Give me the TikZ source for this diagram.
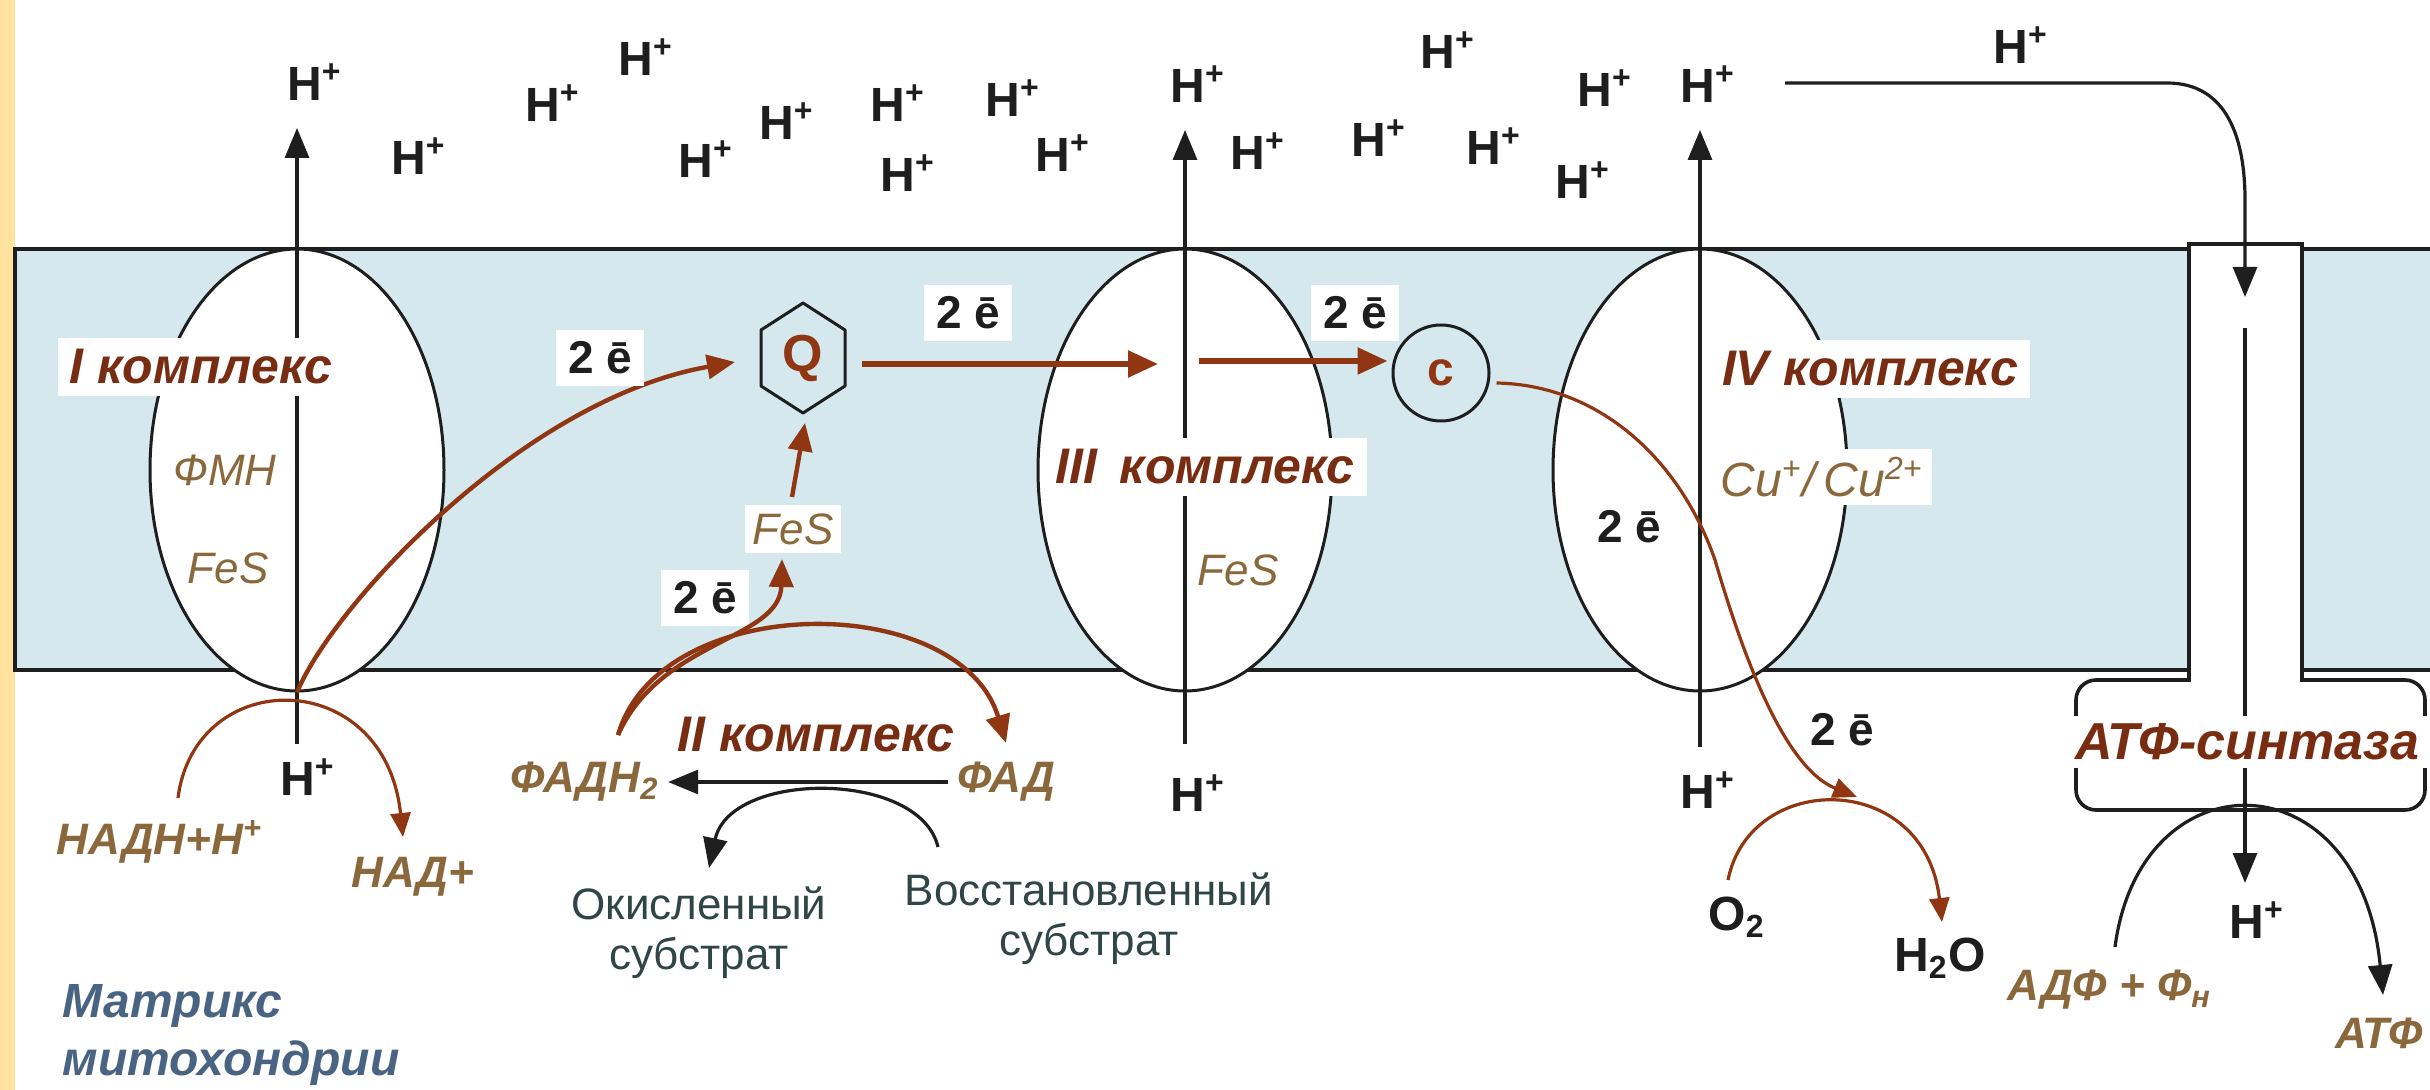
\documentclass[tikz,border=0pt]{standalone}
\usepackage{fontspec}
\setmainfont{Liberation Sans}
\usetikzlibrary{arrows.meta,calc,shapes.geometric}

\definecolor{membr}{RGB}{212,232,238}
\definecolor{stripc}{RGB}{255,226,158}
\definecolor{brn}{RGB}{145,54,18}
\definecolor{lbl}{RGB}{120,44,18}
\definecolor{tanlbl}{RGB}{138,104,60}
\definecolor{slate}{RGB}{48,70,70}
\definecolor{matr}{RGB}{72,100,130}
\definecolor{ink}{RGB}{30,30,30}

\tikzset{
 hp/.style={font=\fontsize{12}{14}\selectfont\bfseries, text=ink, inner sep=1pt},
 ee/.style={font=\fontsize{11.5}{13}\selectfont\bfseries, text=ink, inner sep=3pt},
 cplxlbl/.style={font=\fontsize{12.5}{14}\selectfont\bfseries\itshape, text=lbl, fill=white, inner sep=3pt},
 cof/.style={font=\fontsize{11}{13}\selectfont\itshape, text=tanlbl, inner sep=2pt},
 met/.style={font=\fontsize{11}{13}\selectfont\bfseries\itshape, text=tanlbl, inner sep=2pt},
 subs/.style={font=\fontsize{11}{12.5}\selectfont, text=slate, align=center, inner sep=1pt},
 cplx/.style={ellipse, draw=ink, line width=0.75pt, fill=white, minimum width=73.5pt, minimum height=110.5pt, inner sep=0pt},
 earrow/.style={draw=brn, line width=1.4pt, -{Triangle[length=7.5pt,width=6.5pt]}},
 earrowm/.style={draw=brn, line width=1.1pt, -{Triangle[length=7pt,width=6pt]}},
 earrowt/.style={draw=brn, line width=0.8pt, -{Triangle[length=6pt,width=5pt]}},
 karrow/.style={draw=ink, line width=0.8pt, -{Triangle[length=7.5pt,width=6pt]}},
 kline/.style={draw=ink, line width=0.8pt},
 memline/.style={draw=ink, line width=1pt},
}

\begin{document}
\begin{tikzpicture}[x=0.25pt,y=-0.25pt]
\useasboundingbox (0,0) rectangle (2430,1090);
\fill[white] (0,0) rectangle (2430,1090);
\fill[stripc] (0,0) rectangle (15,1090);

% membrane
\fill[membr] (15,249) rectangle (2445,670);
\draw[memline] (2445,249) -- (15,249) -- (15,670) -- (2445,670);

% complexes
\node[cplx] (c1) at (297,470) {};
\node[cplx] (c3) at (1185,470) {};
\node[cplx] (c4) at (1700,470) {};

% ATP synthase box and channel
\node[draw=ink, line width=0.9pt, fill=white, rounded corners=5pt, minimum width=87.25pt, minimum height=32.5pt, inner sep=0pt] (atpbox) at (2250.5,745) {};
\fill[white] (2190,244) rectangle (2301,684);
\draw[memline] (2189,682) -- (2189,244) -- (2302,244) -- (2302,682);

% coordinates for connector ends
\coordinate (i1b) at (297,744);
\coordinate (i1t) at (297,128);
\coordinate (i3b) at (1185,744);
\coordinate (i3t) at (1185,130);
\coordinate (i4b) at (1700,747);
\coordinate (i4t) at (1700,130);
\coordinate (synS) at (1785,83);
\coordinate (synE) at (2245,297);
\coordinate (synB) at (2245,328);
\coordinate (synD) at (2245,883);

% vertical proton arrows
\draw[karrow] (i1b) -- (i1t);
\draw[karrow] (i3b) -- (i3t);
\draw[karrow] (i4b) -- (i4t);
\draw[karrow] (synS) -- (2167,83) .. controls (2228,83) and (2245,140) .. (2245,200) -- (synE);
\draw[karrow] (synB) -- (synD);

% Q and cytochrome c
\node[font=\fontsize{13}{15}\selectfont\bfseries, text=brn, inner sep=1pt] (Q) at (803,358) {Q};
\draw[ink, line width=0.75pt, line join=round] (Q.center) ++(0,-55) -- ++(42,27) -- ++(0,56) -- ++(-42,27) -- ++(-42,-27) -- ++(0,-56) -- cycle;
\node[draw=ink, line width=0.75pt, circle, minimum size=24pt, inner sep=0pt, font=\fontsize{12}{14}\selectfont\bfseries, text=brn] (cyt) at (1441,373) {c};

\coordinate (qin) at (735,362);
\coordinate (qout) at (862,364);
\coordinate (c3in) at (1158,364);
\coordinate (c3out) at (1199,361);
\coordinate (qbot) at (805,423);

% electron transfer arrows
\draw[earrowm] (c1.south) .. controls (330,610) and (520,400) .. (qin);
\draw[earrow] (qout) -- (c3in);
\draw[earrow] (c3out) -- ($(cyt.west |- c3out)+(-4,0)$);
\draw[earrowt] ($(cyt.east)+(6,10)$) .. controls (1600,385) and (1680,460) .. (1715,560) .. controls (1750,680) and (1790,770) .. (1857,797);

% labels
\node[cplxlbl] (l1) at (201,367) {I комплекс};
\node[cplxlbl] (l3) at (1205,467) {III\hspace{0.45em}комплекс};
\node[cplxlbl] (l4) at (1870,369) {IV комплекс};
\node[cplxlbl, fill=none] (l2) at (816,735) {II комплекс};

\node[cof] (fmn) at (225,470) {ФМН};
\node[cof] (fes1) at (228,568) {FeS};
\node[cof, fill=white] (fes2) at (793,529) {FeS};
\node[cof] (fes3) at (1238,570) {FeS};
\node[cof, fill=white, font=\fontsize{12}{14}\selectfont\itshape] (cu) at (1822,477) {Cu\textsuperscript{+}/\,Cu\textsuperscript{2+}};

\draw[earrowm] (792,497) -- (qbot);

\node[ee, fill=white] (e1) at (600,358) {2 ē};
\node[ee, fill=white] (e2) at (968,313) {2 ē};
\node[ee, fill=white] (e3) at (1355,313) {2 ē};
\node[ee, fill=white] (e4) at (705,598) {2 ē};
\node[ee] (e5) at (1629,527) {2 ē};
\node[ee] (e6) at (1842,730) {2 ē};

% complex II
\node[met] (fadh) at (585,782) {ФАДН\textsubscript{2}};
\node[met] (fad) at (1006,782) {ФАД};
\coordinate (fadhs) at (618,735);
\coordinate (fadt) at (1006,743);
\coordinate (fest) at (782,559);
\draw[earrowm] (fadhs) .. controls (660,590) and (960,590) .. (fadt);
\draw[earrowm] (fadhs) .. controls (660,640) and (780,640) .. (fest);
\draw[karrow] (fad.west) -- (fadh.east);
\coordinate (reds) at (938,847);
\coordinate (oxe) at (709,868);
\draw[karrow] (reds) .. controls (920,770) and (730,770) .. (oxe);
\node[subs] (ox) at (699,933) {Окисленный\\субстрат};
\node[subs] (red) at (1089,919) {Восстановленный\\субстрат};

% complex I matrix side
\node[met] (nadh) at (160,842) {НАДН+Н\textsuperscript{+}};
\node[met] (nad) at (413,877) {НАД+};
\coordinate (nadhs) at (178,798);
\coordinate (nade) at (403,837);
\draw[earrowt] (nadhs) .. controls (195,665) and (385,665) .. (nade);

% complex IV matrix side
\node[hp] (o2) at (1737,917) {O\textsubscript{2}};
\node[hp] (h2o) at (1940,958) {H\textsubscript{2}O};
\coordinate (o2s) at (1728,880);
\coordinate (h2oe) at (1942,922);
\draw[earrowt] (o2s) .. controls (1750,770) and (1925,770) .. (h2oe);

% ATP synthase side
\node[font=\fontsize{13}{15}\selectfont\bfseries\itshape, text=lbl, fill=white, inner sep=2pt] (atpl) at (2247,742) {АТФ-синтаза};
\node[met] (adp) at (2110,990) {АДФ + Ф\textsubscript{н}};
\node[met, anchor=east, inner sep=1pt] (atp) at (2428,1033) {АТФ};
\coordinate (adps) at (2115,947);
\coordinate (atpe) at (2383,995);
\draw[karrow] (adps) .. controls (2140,755) and (2360,755) .. (atpe);

% H+ labels (intermembrane space)
\node[hp] (h1) at (315,82) {H\textsuperscript{+}};
\node[hp] (h2) at (419,156) {H\textsuperscript{+}};
\node[hp] (h3) at (553,103) {H\textsuperscript{+}};
\node[hp] (h4) at (646,57) {H\textsuperscript{+}};
\node[hp] (h5) at (706,159) {H\textsuperscript{+}};
\node[hp] (h6) at (787,121) {H\textsuperscript{+}};
\node[hp] (h7) at (898,103) {H\textsuperscript{+}};
\node[hp] (h8) at (1013,98) {H\textsuperscript{+}};
\node[hp] (h9) at (908,173) {H\textsuperscript{+}};
\node[hp] (h10) at (1063,153) {H\textsuperscript{+}};
\node[hp] (h11) at (1198,84) {H\textsuperscript{+}};
\node[hp] (h12) at (1258,151) {H\textsuperscript{+}};
\node[hp] (h13) at (1379,138) {H\textsuperscript{+}};
\node[hp] (h14) at (1448,50) {H\textsuperscript{+}};
\node[hp] (h15) at (1494,146) {H\textsuperscript{+}};
\node[hp] (h16) at (1605,88) {H\textsuperscript{+}};
\node[hp] (h17) at (1583,180) {H\textsuperscript{+}};
\node[hp] (h18) at (1708,84) {H\textsuperscript{+}};
\node[hp] (h19) at (2021,45) {H\textsuperscript{+}};

% H+ labels (matrix)
\node[hp] (hb1) at (308,777) {H\textsuperscript{+}};
\node[hp] (hb3) at (1198,793) {H\textsuperscript{+}};
\node[hp] (hb4) at (1708,790) {H\textsuperscript{+}};
\node[hp] (hb5) at (2257,920) {H\textsuperscript{+}};

\node[font=\fontsize{12}{14.5}\selectfont\bfseries\itshape, text=matr, align=left, anchor=west, inner sep=0pt] (mtx) at (62,1035) {Матрикс\\митохондрии};
\end{tikzpicture}
\end{document}
